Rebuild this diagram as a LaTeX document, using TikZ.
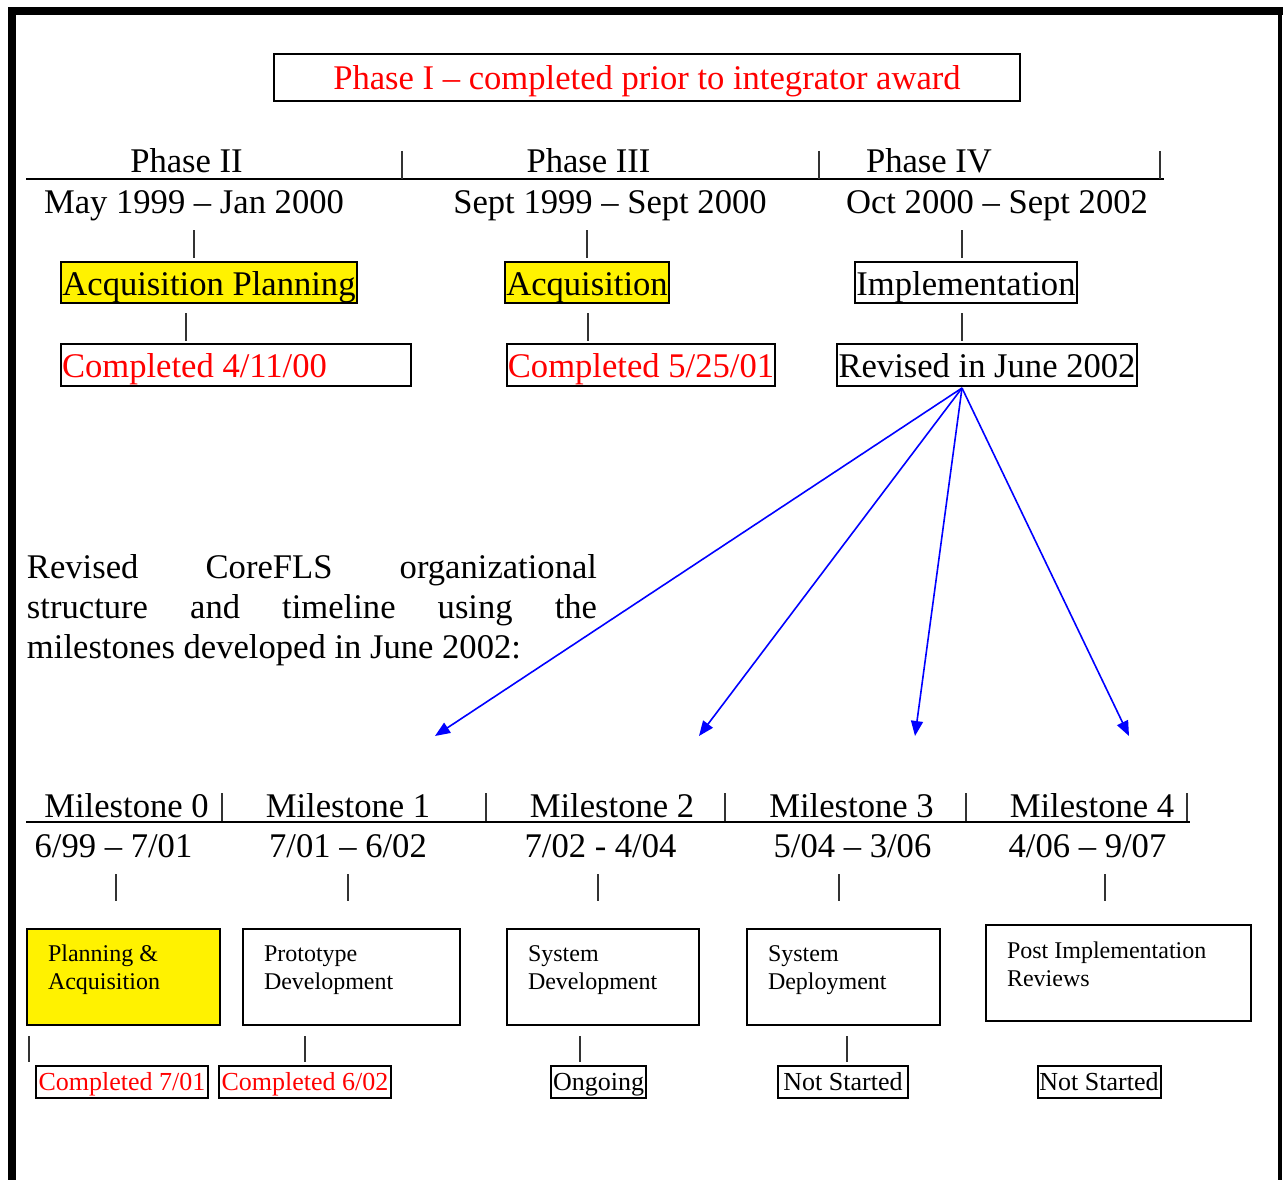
\documentclass[tikz,border=0pt]{standalone}
\usepackage{fontspec}
\setmainfont{Liberation Serif}
\usetikzlibrary{arrows.meta}
\def\phasefont{\fontsize{34.6}{40}\selectfont}
\def\stepfont{\fontsize{24}{28}\selectfont}
\def\statusfont{\fontsize{26}{30}\selectfont}
\def\phaserule{(26,179) -- (1164,179)}
\def\milerule{(26,822) -- (1190,822)}

\tikzset{
	lbl/.style={anchor=base, inner sep=0pt, font=\phasefont, execute at begin node={\spaceskip=0pt\relax}},
	tbox/.style={lbl, draw, line width=2pt},
	stepbox/.style={tbox, font=\stepfont, align=left, inner xsep=21pt},
	statbox/.style={tbox, font=\statusfont, text height=24pt, text depth=8pt},
	stem/.style={black!80, line width=1.3pt},
	fanarrow/.style={blue, line width=1.6pt, -{Triangle[length=15pt,width=12pt]}}
}

\begin{document}
\begin{tikzpicture}[x=1pt, y=-1pt]
	\useasboundingbox (0,0) rectangle (1283,1180);
	
	%page frame
	\draw[line width=8pt] (12,1180) -- (12,11) -- (1283,11);
	\draw[line width=4pt] (1280,11) -- (1280,1180);
	
	\node[tbox, text=red, minimum width=746pt, text height=36pt, text depth=11pt] (ph1) at (647,90) {Phase I – completed prior to integrator award};
	
	%phases II to IV
	\draw[line width=2pt] \phaserule;
	\draw[stem] (402,151) -- (402,179);
	\draw[stem] (819,151) -- (819,179);
	\draw[stem] (1160,151) -- (1160,179);
	\node[lbl] (p2) at (186.5,173) {Phase II};
	\node[lbl] (p3) at (588.5,173) {Phase III};
	\node[lbl] (p4) at (929,173) {Phase IV};
	\node[lbl] (d2) at (194,213) {May 1999 – Jan 2000};
	\node[lbl] (d3) at (610,213) {Sept 1999 – Sept 2000};
	\node[lbl] (d4) at (997,213) {Oct 2000 – Sept 2002};
	
	\node[tbox, fill=yellow, minimum width=296pt, text height=33pt, text depth=8pt] (a2) at (209,295) {Acquisition Planning};
	\node[tbox, fill=yellow, minimum width=164pt, text height=33pt, text depth=8pt] (a3) at (587,295) {Acquisition};
	\node[tbox, minimum width=222pt, text height=33pt, text depth=8pt] (a4) at (966,295) {Implementation};
	
	\node[tbox, text=red, text width=348pt, align=left, inner xsep=1pt, text height=33pt, text depth=9pt] (c2) at (236,377) {Completed 4/11/00};
	\node[tbox, text=red, minimum width=268pt, text height=33pt, text depth=9pt] (c3) at (641,377) {Completed 5/25/01};
	\node[tbox, minimum width=300pt, text height=33pt, text depth=9pt] (c4) at (987,377) {Revised in June 2002};
	
	\draw[stem, shorten <=17pt, shorten >=3pt] (d2.base -| 194,0) -- (a2.north -| 194,0);
	\draw[stem, shorten <=17pt, shorten >=3pt] (d3.base -| 587,0) -- (a3.north -| 587,0);
	\draw[stem, shorten <=17pt, shorten >=3pt] (d4.base -| 962,0) -- (a4.north -| 962,0);
	\draw[stem, shorten <=9pt, shorten >=2pt] (a2.south -| 186,0) -- (c2.north -| 186,0);
	\draw[stem, shorten <=9pt, shorten >=2pt] (a3.south -| 588,0) -- (c3.north -| 588,0);
	\draw[stem, shorten <=9pt, shorten >=2pt] (a4.south -| 962,0) -- (c4.north -| 962,0);
	
	\node[lbl, text width=570pt, align=left] (note) at (312,578) {\makebox[570pt][s]{Revised\hfill CoreFLS\hfill organizational}\\\makebox[570pt][s]{structure\hfill and\hfill timeline\hfill using\hfill the}\\milestones developed in June 2002:};
	
	%fan of arrows down to the milestones
	\coordinate (fan) at (962,388);
	\coordinate (t0) at (435,736);
	\coordinate (t1) at (699,736);
	\coordinate (t2) at (915,736);
	\coordinate (t3) at (1129,736);
	\draw[fanarrow] (fan) -- (t0);
	\draw[fanarrow] (fan) -- (t1);
	\draw[fanarrow] (fan) -- (t2);
	\draw[fanarrow] (fan) -- (t3);
	
	%milestones
	\draw[line width=2pt] \milerule;
	\draw[stem] (222,793) -- (222,821);
	\draw[stem] (486,793) -- (486,821);
	\draw[stem] (725,793) -- (725,821);
	\draw[stem] (966,793) -- (966,821);
	\draw[stem] (1187,793) -- (1187,821);
	\node[lbl] (m0) at (126.5,817) {Milestone 0};
	\node[lbl] (m1) at (348,817) {Milestone 1};
	\node[lbl] (m2) at (612,817) {Milestone 2};
	\node[lbl] (m3) at (851.5,817) {Milestone 3};
	\node[lbl] (m4) at (1092,817) {Milestone 4};
	\node[lbl] (md0) at (113.5,857) {6/99 – 7/01};
	\node[lbl] (md1) at (348,857) {7/01 – 6/02};
	\node[lbl] (md2) at (600.5,857) {7/02 - 4/04};
	\node[lbl] (md3) at (852.5,857) {5/04 – 3/06};
	\node[lbl] (md4) at (1087.5,857) {4/06 – 9/07};
	
	\node[stepbox, fill=yellow, text width=151pt, text height=32pt, text depth=64pt] (mb0) at (123.5,961) {Planning \&\\Acquisition};
	\node[stepbox, text width=175pt, text height=32pt, text depth=64pt] (mb1) at (351.5,961) {Prototype\\Development};
	\node[stepbox, text width=150pt, text height=32pt, text depth=64pt] (mb2) at (603,961) {System\\Development};
	\node[stepbox, text width=151pt, text height=32pt, text depth=64pt] (mb3) at (843.5,961) {System\\Deployment};
	\node[stepbox, text width=223pt, text height=33pt, text depth=63pt] (mb4) at (1118.5,958) {Post Implementation\\Reviews};
	
	\draw[stem, shorten <=17pt, shorten >=27pt] (md0.base -| 116,0) -- (mb0.north -| 116,0);
	\draw[stem, shorten <=17pt, shorten >=27pt] (md1.base -| 348,0) -- (mb1.north -| 348,0);
	\draw[stem, shorten <=17pt, shorten >=27pt] (md2.base -| 598,0) -- (mb2.north -| 598,0);
	\draw[stem, shorten <=17pt, shorten >=27pt] (md3.base -| 839,0) -- (mb3.north -| 839,0);
	\draw[stem, shorten <=17pt, shorten >=23pt] (md4.base -| 1105,0) -- (mb4.north -| 1105,0);
	
	\node[statbox, text=red, minimum width=172pt] (ms0) at (122,1090) {Completed 7/01};
	\node[statbox, text=red, minimum width=172pt] (ms1) at (305,1090) {Completed 6/02};
	\node[statbox, minimum width=95pt] (ms2) at (598.5,1090) {Ongoing};
	\node[statbox, minimum width=130pt] (ms3) at (843,1090) {Not Started};
	\node[statbox, minimum width=123pt] (ms4) at (1099,1090) {Not Started};
	
	\draw[stem, shorten <=10pt, shorten >=3pt] (mb0.south -| 29,0) -- (ms0.north -| 29,0);
	\draw[stem, shorten <=10pt, shorten >=3pt] (mb1.south -| 305,0) -- (ms1.north -| 305,0);
	\draw[stem, shorten <=10pt, shorten >=3pt] (mb2.south -| 580,0) -- (ms2.north -| 580,0);
	\draw[stem, shorten <=10pt, shorten >=3pt] (mb3.south -| 847,0) -- (ms3.north -| 847,0);
\end{tikzpicture}
\end{document}
